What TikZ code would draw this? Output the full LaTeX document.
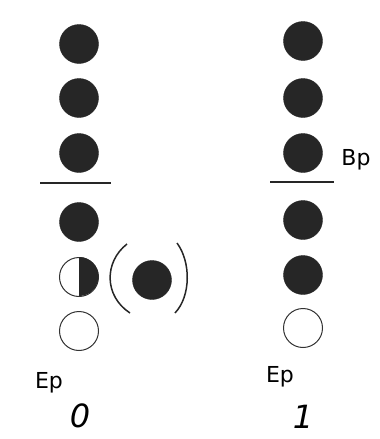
\documentclass[tikz,border=0pt]{standalone}
\usepackage{fontspec}
\newfontfamily\handfont{DejaVu Sans}
\begin{document}
\begin{tikzpicture}[x=1pt,y=-1pt,
  full/.style={circle,fill=black!85,draw=black!85,minimum size=39pt,inner sep=0pt},
  empty/.style={circle,draw=black!80,line width=1pt,minimum size=39pt,inner sep=0pt},
  level/.style={line width=1.4pt,black!85},
  lbl/.style={font=\handfont\fontsize{22}{22}\selectfont,inner sep=0pt},
  num/.style={font=\handfont\itshape\fontsize{32}{32}\selectfont,inner sep=0pt}]
\useasboundingbox (0,0) rectangle (380,439);
% left column
\node[full] (a1) at (79,44) {};
\node[full] (a2) at (79,98) {};
\node[full] (a3) at (79,153) {};
\coordinate (la) at (40,183);
\coordinate (lb) at (111,183);
\draw[level] (la) -- (lb);
\node[full] (a4) at (79,222) {};
\node[empty] (a5) at (79,277) {};
\fill[black!85] (a5.north) arc[start angle=90,end angle=-90,radius=19.5pt] -- cycle;
\node[full] (ap) at (152,280) {};
\draw[line width=1.5pt,black!85] (127,244) .. controls (104,262) and (104,296) .. (130,313);
\draw[line width=1.5pt,black!85] (177,243) .. controls (191,262) and (191,296) .. (175,313);
\node[empty] (a6) at (79,331) {};
\node[lbl] (ea) at (49,383) {Ep};
\node[num] (n0) at (80,416) {0};
% right column
\node[full] (b1) at (303,41) {};
\node[full] (b2) at (303,98) {};
\node[full] (b3) at (303,153) {};
\coordinate (ra) at (270,182);
\coordinate (rb) at (334,182);
\draw[level] (ra) -- (rb);
\node[lbl] (bp) at (356,160) {Bp};
\node[full] (b4) at (303,220) {};
\node[full] (b5) at (303,275) {};
\node[empty] (b6) at (303,328) {};
\node[lbl] (eb) at (280,377) {Ep};
\node[num] (n1) at (303,417) {1};
\end{tikzpicture}
\end{document}
